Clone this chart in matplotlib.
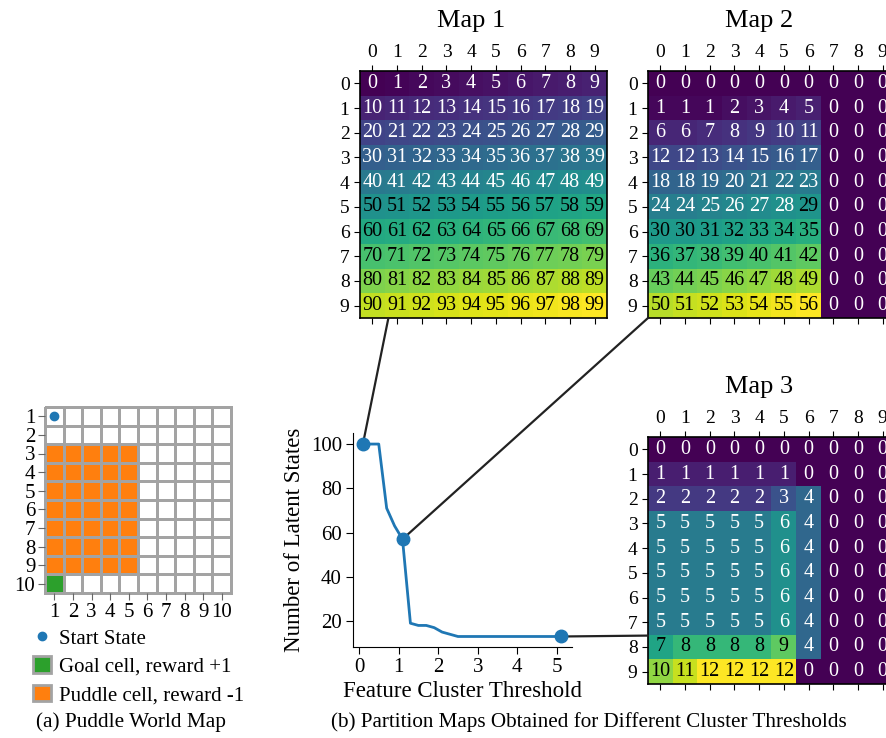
import numpy as np
import matplotlib.pyplot as plt
from matplotlib.patches import Patch, ConnectionPatch
from matplotlib.lines import Line2D
from matplotlib.colors import ListedColormap

plt.rcParams['font.family'] = ['Liberation Serif', 'DejaVu Serif']

W, H = 887, 738


def box(left, top, width, height):
    # pixel box (from top-left) -> figure fraction
    return [left / W, 1 - (top + height) / H, width / W, height / H]


# --- data ---

map1 = [
    [0, 1, 2, 3, 4, 5, 6, 7, 8, 9],
    [10, 11, 12, 13, 14, 15, 16, 17, 18, 19],
    [20, 21, 22, 23, 24, 25, 26, 27, 28, 29],
    [30, 31, 32, 33, 34, 35, 36, 37, 38, 39],
    [40, 41, 42, 43, 44, 45, 46, 47, 48, 49],
    [50, 51, 52, 53, 54, 55, 56, 57, 58, 59],
    [60, 61, 62, 63, 64, 65, 66, 67, 68, 69],
    [70, 71, 72, 73, 74, 75, 76, 77, 78, 79],
    [80, 81, 82, 83, 84, 85, 86, 87, 88, 89],
    [90, 91, 92, 93, 94, 95, 96, 97, 98, 99],
]

map2 = [
    [0, 0, 0, 0, 0, 0, 0, 0, 0, 0],
    [1, 1, 1, 2, 3, 4, 5, 0, 0, 0],
    [6, 6, 7, 8, 9, 10, 11, 0, 0, 0],
    [12, 12, 13, 14, 15, 16, 17, 0, 0, 0],
    [18, 18, 19, 20, 21, 22, 23, 0, 0, 0],
    [24, 24, 25, 26, 27, 28, 29, 0, 0, 0],
    [30, 30, 31, 32, 33, 34, 35, 0, 0, 0],
    [36, 37, 38, 39, 40, 41, 42, 0, 0, 0],
    [43, 44, 45, 46, 47, 48, 49, 0, 0, 0],
    [50, 51, 52, 53, 54, 55, 56, 0, 0, 0],
]

map3 = [
    [0, 0, 0, 0, 0, 0, 0, 0, 0, 0],
    [1, 1, 1, 1, 1, 1, 0, 0, 0, 0],
    [2, 2, 2, 2, 2, 3, 4, 0, 0, 0],
    [5, 5, 5, 5, 5, 6, 4, 0, 0, 0],
    [5, 5, 5, 5, 5, 6, 4, 0, 0, 0],
    [5, 5, 5, 5, 5, 6, 4, 0, 0, 0],
    [5, 5, 5, 5, 5, 6, 4, 0, 0, 0],
    [5, 5, 5, 5, 5, 6, 4, 0, 0, 0],
    [7, 8, 8, 8, 8, 9, 4, 0, 0, 0],
    [10, 11, 12, 12, 12, 12, 0, 0, 0, 0],
]

thresholds = [0.1, 0.3, 0.5, 0.7, 0.9, 1.1, 1.3, 1.5, 1.7, 1.9, 2.1, 2.3, 2.5,
              2.7, 2.9, 3.1, 3.3, 3.5, 3.7, 3.9, 4.1, 4.3, 4.5, 4.7, 4.9, 5.1]
n_states = [100, 100, 100, 71, 63, 57, 19, 18, 18, 17, 15, 14, 13,
            13, 13, 13, 13, 13, 13, 13, 13, 13, 13, 13, 13, 13]
picked_thr = [0.1, 1.1, 5.1]
picked_n = [100, 57, 13]

grid_size = 10
puddle_rows = [3, 4, 5, 6, 7, 8, 9]
puddle_cols = [1, 2, 3, 4, 5]
goal_cell = (10, 1)   # (row, col)
start_cell = (1, 1)

fig = plt.figure(figsize=(W / 100, H / 100), dpi=100)

# --- (a) puddle world ---
ax_pw = fig.add_axes(box(45, 407, 186, 186))
world = np.zeros((grid_size, grid_size))
for r in puddle_rows:
    for c in puddle_cols:
        world[r - 1, c - 1] = 1
world[goal_cell[0] - 1, goal_cell[1] - 1] = 2
edges = np.arange(grid_size + 1) + 0.5
ax_pw.pcolormesh(edges, edges, world, cmap=ListedColormap(['white', '#ff7f0e', '#2ca02c']),
                 vmin=0, vmax=2, edgecolors='#a3a3a3', linewidth=2, clip_on=False)
ax_pw.plot(start_cell[1], start_cell[0], 'o', color='#1f77b4', markersize=6)
ax_pw.set_xlim(0.5, 10.5)
ax_pw.set_ylim(10.5, 0.5)
ax_pw.set_xticks(range(1, 11))
ax_pw.set_yticks(range(1, 11))
ax_pw.tick_params(labelsize=15, length=5, pad=2, color='#666666')
for s in ax_pw.spines.values():
    s.set_visible(False)

handles = [Line2D([], [], marker='o', ls='', color='#1f77b4', markersize=6),
           Patch(facecolor='#2ca02c', edgecolor='#a3a3a3', lw=2),
           Patch(facecolor='#ff7f0e', edgecolor='#a3a3a3', lw=2)]
fig.legend(handles, ['Start State', 'Goal cell, reward +1', 'Puddle cell, reward -1'],
           loc='upper left', bbox_to_anchor=(33 / W, 1 - 628 / H), frameon=False,
           fontsize=15, handlelength=0.85, handleheight=0.85, handletextpad=0.4,
           labelspacing=0.38, borderpad=0, borderaxespad=0)

fig.text(131 / W, 1 - 722 / H, '(a) Puddle World Map', ha='center', va='center', fontsize=15.3)
fig.text(589 / W, 1 - 722 / H, '(b) Partition Maps Obtained for Different Cluster Thresholds',
         ha='center', va='center', fontsize=15.2)

# --- partition maps ---


def draw_map(ax, values, title):
    vals = np.array(values)
    vmax = vals.max()
    ax.imshow(vals, cmap='viridis', vmin=0, vmax=vmax, aspect='auto', interpolation='nearest')
    for i in range(vals.shape[0]):
        for j in range(vals.shape[1]):
            v = vals[i, j]
            ax.text(j, i, str(v), ha='center', va='center', fontsize=14.5,
                    color='white' if v <= vmax / 2 else 'black')
    ax.set_xticks(range(10))
    ax.set_yticks(range(10))
    ax.tick_params(top=True, labeltop=True, bottom=True, labelbottom=False,
                   labelsize=14, length=4, pad=3.5)
    for s in ax.spines.values():
        s.set_linewidth(1.2)
    # fixed title height (no auto-placement)
    ax.set_title(title, fontsize=19, x=0.45, y=1.178, pad=0)


ax1 = fig.add_axes(box(360, 71, 247, 247))
draw_map(ax1, map1, 'Map 1')
ax2 = fig.add_axes(box(648, 71, 247, 247))
draw_map(ax2, map2, 'Map 2')
ax3 = fig.add_axes(box(648, 437, 247, 247))
draw_map(ax3, map3, 'Map 3')

# --- threshold curve ---
ax_l = fig.add_axes(box(353, 433, 219, 214))
ax_l.set_facecolor('none')
ax_l.set_zorder(3)
ax_l.plot(thresholds, n_states, color='#1f77b4', lw=2)
ax_l.plot(picked_thr, picked_n, 'o', color='#1f77b4', markersize=9)
ax_l.set_xlim(-0.15, 5.38)
ax_l.set_ylim(8.25, 105)
ax_l.set_xticks([0, 1, 2, 3, 4, 5])
ax_l.set_yticks([20, 40, 60, 80, 100])
ax_l.spines['top'].set_visible(False)
ax_l.spines['right'].set_visible(False)
ax_l.tick_params(labelsize=15, length=5, pad=3)
ax_l.set_xlabel('Feature Cluster Threshold', fontsize=16.5, labelpad=3)
ax_l.set_ylabel('Number of Latent States', fontsize=16.5, labelpad=4)

targets = [(ax1, (0.115, 0)), (ax2, (0, 0)), (ax3, (0, 0.196))]
for (tax, xy), x, y in zip(targets, picked_thr, picked_n):
    con = ConnectionPatch(xyA=(x, y), coordsA=ax_l.transData, xyB=xy, coordsB=tax.transAxes,
                          color='#222222', lw=1.6, zorder=2)
    fig.add_artist(con)

fig.savefig('out.png', dpi=100)
